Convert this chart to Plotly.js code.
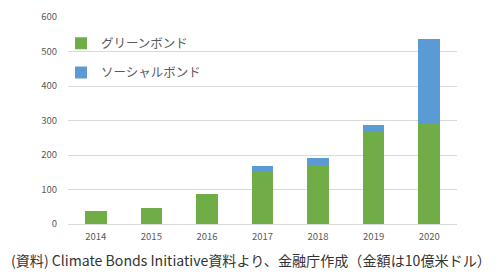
<!DOCTYPE html>
<html><head><meta charset="utf-8">
<script src="https://cdn.plot.ly/plotly-3.0.1.min.js"></script>
<style>html,body{margin:0;padding:0;background:#fff}#c{width:499px;height:274px}</style>
</head><body><div id="c"></div>
<script>
const years = ['2014','2015','2016','2017','2018','2019','2020'];
const green = [38, 47, 86, 153, 172, 266, 290];
const social = [0, 0, 0, 14, 18, 20, 246];
const seriesNames = ['グリーンボンド', 'ソーシャルボンド'];
const caption = '(資料) Climate Bonds Initiative資料より、金融庁作成（金額は10億米ドル）';

const F = '"Noto Sans CJK JP", "Noto Sans", sans-serif';
const data = [
  {type:'bar', x:years, y:green, name:seriesNames[0], marker:{color:'#70AD47'}, legendgroup:'g', width:0.39, hoverinfo:'y'},
  {type:'bar', x:years, y:social, name:seriesNames[1], marker:{color:'#5B9BD5'}, legendgroup:'s', width:0.39, hoverinfo:'y'}
];
const layout = {
  width:499, height:274,
  margin:{l:68, r:42, t:17, b:49.5},
  barmode:'stack',
  paper_bgcolor:'#fff', plot_bgcolor:'#fff',
  font:{family:F, color:'#595959', size:10},
  xaxis:{type:'category', showgrid:false, showline:true, linecolor:'#d9d9d9', ticks:'', tickfont:{size:9.5, color:'#595959'}, ticklabelstandoff:4},
  yaxis:{range:[0,600], dtick:100, showgrid:true, gridcolor:'#d9d9d9', zeroline:false, showline:false, ticks:'', tickfont:{size:9.5, color:'#595959'}, ticklabelstandoff:10},
  showlegend:true,
  legend:{x:-0.018, y:0.944, xanchor:'left', yanchor:'top', bgcolor:'rgba(0,0,0,0)', font:{size:12.5, color:'#595959'}, traceorder:'grouped', tracegroupgap:10, itemwidth:30},
  annotations:[{text:caption, xref:'paper', yref:'paper', x:0.5, y:0, yshift:-48, xanchor:'center', yanchor:'bottom', showarrow:false, font:{size:14.1, color:'#333', family:F}, xshift:-12}]
};
Plotly.newPlot('c', data, layout, {displayModeBar:false, staticPlot:true});
</script></body></html>
